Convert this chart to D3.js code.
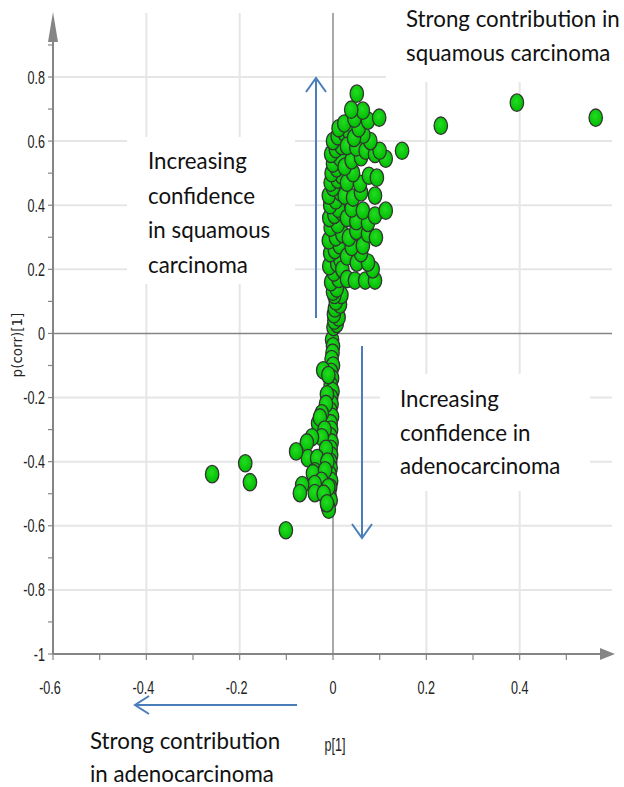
<!DOCTYPE html>
<html>
<head>
<meta charset="utf-8">
<script src="https://cdn.jsdelivr.net/npm/d3@7"></script>
<style>
  html, body { margin: 0; padding: 0; background: #fff; }
  svg { display: block; }
</style>
</head>
<body>
<svg id="chart" width="624" height="787"></svg>
<script>
// ---------- DATA ----------
const xTicks = [-0.6, -0.4, -0.2, 0, 0.2, 0.4];
const xTickLabels = ["-0.6", "-0.4", "-0.2", "0", "0.2", "0.4"];
const yTicks = [-1, -0.8, -0.6, -0.4, -0.2, 0, 0.2, 0.4, 0.6, 0.8];
const yTickLabels = ["-1", "-0.8", "-0.6", "-0.4", "-0.2", "0", "0.2", "0.4", "0.6", "0.8"];
const xMinorTicks = [-0.5, -0.3, -0.1, 0.1, 0.3, 0.5];
const yMinorTicks = [-0.9, -0.7, -0.5, -0.3, -0.1, 0.1, 0.3, 0.5, 0.7, 0.9];

// lower tail (negative p(corr))
const lowerSpine = [
  [-0.002,-0.02],[0.000,-0.04],[-0.001,-0.06],[-0.003,-0.08],[0.000,-0.10],[-0.004,-0.12],
  [-0.002,-0.14],[-0.005,-0.16],[-0.001,-0.18],[-0.004,-0.20],[-0.003,-0.22],[-0.006,-0.24],
  [-0.002,-0.26],[-0.005,-0.28],[-0.004,-0.30],[-0.006,-0.32],[-0.003,-0.34],[-0.005,-0.36],
  [-0.004,-0.38],[-0.006,-0.40],[-0.005,-0.42],[-0.007,-0.44],[-0.004,-0.46],[-0.006,-0.48],
  [-0.008,-0.50],[-0.005,-0.52],[-0.011,-0.54],[-0.009,-0.55],[-0.021,-0.115],[-0.010,-0.13],
  [-0.013,-0.19],[-0.015,-0.22]
];
const lowerLump = [
  [-0.024,-0.249],[-0.032,-0.280],[-0.028,-0.262],[-0.018,-0.300],[-0.024,-0.324],[-0.045,-0.324],
  [-0.015,-0.360],[-0.056,-0.340],[-0.030,-0.410],[-0.054,-0.389],[-0.034,-0.389],[-0.079,-0.368],
  [-0.012,-0.400],[-0.039,-0.430],[-0.021,-0.436],[-0.043,-0.436],[-0.017,-0.427],[-0.025,-0.460],
  [-0.039,-0.470],[-0.066,-0.473],[-0.010,-0.480],[-0.071,-0.498],[-0.039,-0.498],[-0.020,-0.500],
  [-0.013,-0.530]
];
// upper part (positive p(corr))
const upperSpine = [
  [0.001,0.02],[0.008,0.03],[0.003,0.04],[0.012,0.05],[0.002,0.06],[0.004,0.078],[0.015,0.09],
  [0.006,0.10],[0.018,0.12],[0.003,0.12],
  [0.000,0.13],[0.008,0.14],[-0.004,0.16],[0.012,0.17],[0.002,0.19],[-0.008,0.21],
  [0.009,0.218],[0.016,0.23],[-0.006,0.25],[0.004,0.26],[0.014,0.275],[-0.009,0.29],
  [0.006,0.30],[0.020,0.31],[-0.005,0.33],[0.010,0.34],[-0.008,0.36],[0.003,0.37],
  [0.018,0.38],[0.011,0.389],[-0.006,0.40],[0.006,0.415],[-0.009,0.43],[0.016,0.44],
  [0.000,0.455],[-0.005,0.47],[0.010,0.48],[0.019,0.492],[-0.003,0.50],[0.008,0.515],
  [0.000,0.53],[0.015,0.548],[-0.004,0.56],[0.006,0.575],[0.018,0.585],[0.000,0.60],
  [0.010,0.615],[0.025,0.625],[0.034,0.632],[0.012,0.64],[0.024,0.655]
];
const upperSpread = [
  [0.020,0.200],[0.030,0.170],[0.047,0.165],[0.069,0.165],[0.090,0.165],[0.085,0.200],
  [0.030,0.240],[0.051,0.221],[0.075,0.221],[0.060,0.250],[0.040,0.270],[0.064,0.274],
  [0.034,0.299],[0.050,0.320],[0.075,0.311],[0.092,0.299],[0.030,0.360],[0.050,0.350],
  [0.075,0.345],[0.040,0.390],[0.064,0.383],[0.090,0.368],[0.113,0.383],[0.025,0.430],
  [0.043,0.424],[0.060,0.440],[0.090,0.430],[0.030,0.470],[0.058,0.467],[0.043,0.500],
  [0.077,0.492],[0.094,0.486],[0.025,0.520],[0.040,0.540],[0.060,0.550],[0.030,0.585],
  [0.050,0.580],[0.070,0.570],[0.090,0.560],[0.113,0.545],[0.100,0.570],[0.080,0.600],
  [0.065,0.620],[0.045,0.610],[0.055,0.640],[0.046,0.670],[0.075,0.664],[0.099,0.673],
  [0.064,0.695],[0.039,0.698],[0.051,0.748]
];
const outlierPoints = [
  [0.148,0.570],[0.231,0.648],[0.394,0.720],[0.563,0.673],
  [-0.259,-0.439],[-0.188,-0.405],[-0.178,-0.464],[-0.101,-0.614]
];

// ---------- CHART ----------
const svg = d3.select("#chart");
const x = d3.scaleLinear().domain([-0.6, 0.6]).range([53, 613]);
const y = d3.scaleLinear().domain([-1, 0.8]).range([654, 77]);

const tickFont = "'Liberation Sans', Arial, sans-serif";
const noteFont = "Lato, 'Open Sans', sans-serif";
const grey = "#858585";
const blue = "#4a7ebb";

const defs = svg.append("defs");
const grad = defs.append("radialGradient").attr("id", "dotGrad")
  .attr("cx", "45%").attr("cy", "40%").attr("r", "60%");
grad.append("stop").attr("offset", "0%").attr("stop-color", "#22dd22");
grad.append("stop").attr("offset", "100%").attr("stop-color", "#00bb00");

const topY = 13, rightX = 612;

// gridlines
const g = svg.append("g");
g.selectAll(".hgrid").data(yTicks.filter(v => v !== -1 && v !== 0)).join("line")
  .attr("x1", x(-0.6)).attr("x2", rightX)
  .attr("y1", d => y(d)).attr("y2", d => y(d))
  .attr("stroke", "#e6e6e6").attr("stroke-width", 2);
g.selectAll(".vgrid").data(xTicks.filter(v => v !== -0.6 && v !== 0)).join("line")
  .attr("x1", d => x(d)).attr("x2", d => x(d))
  .attr("y1", topY).attr("y2", y(-1))
  .attr("stroke", "#e6e6e6").attr("stroke-width", 2);

// white annotation boxes covering gridlines
const boxes = [
  [386, 0, 238, 82],
  [127, 137, 168, 147],
  [380, 374, 210, 117]
];
svg.selectAll(".box").data(boxes).join("rect")
  .attr("x", d => d[0]).attr("y", d => d[1]).attr("width", d => d[2]).attr("height", d => d[3])
  .attr("fill", "#fff");

// zero lines
svg.append("line").attr("x1", x(-0.6)).attr("x2", rightX).attr("y1", y(0)).attr("y2", y(0))
  .attr("stroke", grey).attr("stroke-width", 1.6);
svg.append("line").attr("x1", x(0)).attr("x2", x(0)).attr("y1", topY).attr("y2", y(-1))
  .attr("stroke", grey).attr("stroke-width", 1.4);

// axes
const axisG = svg.append("g");
axisG.append("line").attr("x1", x(-0.6)).attr("x2", 601).attr("y1", y(-1)).attr("y2", y(-1))
  .attr("stroke", grey).attr("stroke-width", 2);
axisG.append("path").attr("d", `M600,${y(-1)-6} L615,${y(-1)} L600,${y(-1)+6} Z`).attr("fill", grey);
axisG.append("line").attr("x1", x(-0.6)).attr("x2", x(-0.6)).attr("y1", y(-1)).attr("y2", 40)
  .attr("stroke", grey).attr("stroke-width", 2);
axisG.append("path").attr("d", `M${x(-0.6)-5},42 L${x(-0.6)},12 L${x(-0.6)+5},42 Z`).attr("fill", grey);

// ticks
axisG.selectAll(".xt").data(xTicks.concat(xMinorTicks.filter(v => v < 0.6))).join("line")
  .attr("x1", d => x(d)).attr("x2", d => x(d)).attr("y1", y(-1)).attr("y2", y(-1) + 6)
  .attr("stroke", grey).attr("stroke-width", 1.2);
axisG.selectAll(".yt").data(yTicks.concat(yMinorTicks)).join("line")
  .attr("x1", x(-0.6) - 5).attr("x2", x(-0.6)).attr("y1", d => y(d)).attr("y2", d => y(d))
  .attr("stroke", grey).attr("stroke-width", 1.2);

// tick labels (condensed look via horizontal scaling)
axisG.selectAll(".xl").data(xTicks).join("text")
  .attr("transform", (d, i) => `translate(${x(d) - (xTickLabels[i].startsWith("-") ? 3 : 0)},694) scale(0.7,1)`)
  .attr("text-anchor", "middle")
  .attr("font-family", tickFont).attr("font-size", 18).attr("fill", "#222")
  .text((d, i) => xTickLabels[i]);
axisG.selectAll(".yl").data(yTicks).join("text")
  .attr("transform", d => `translate(45,${y(d) + 6.5}) scale(0.7,1)`)
  .attr("text-anchor", "end")
  .attr("font-family", tickFont).attr("font-size", 18).attr("fill", "#222")
  .text((d, i) => yTickLabels[i]);

// axis titles
svg.append("text").attr("transform", "translate(335,751) scale(0.7,1)").attr("text-anchor", "middle")
  .attr("font-family", tickFont).attr("font-size", 18).attr("fill", "#222").text("p[1]");
svg.append("text").attr("transform", "translate(22,345) rotate(-90)").attr("text-anchor", "middle")
  .attr("font-family", "'DejaVu Sans', sans-serif").attr("font-size", 13.5).attr("fill", "#222")
  .text("p(corr)[1]");

// points
const allPoints = lowerSpine.concat(lowerLump, upperSpine, upperSpread, outlierPoints);
svg.append("g").selectAll("ellipse").data(allPoints).join("ellipse")
  .attr("cx", d => x(d[0])).attr("cy", d => y(d[1]))
  .attr("rx", 6.7).attr("ry", 8.7)
  .attr("fill", "url(#dotGrad)")
  .attr("stroke", "#333").attr("stroke-width", 1.3);

// blue arrows
const arrows = svg.append("g").attr("stroke", blue).attr("stroke-width", 2).attr("fill", "none");
arrows.append("line").attr("x1", 316).attr("x2", 316).attr("y1", 318).attr("y2", 78);
arrows.append("path").attr("d", "M306,92 L316,78 L326,92");
arrows.append("line").attr("x1", 362).attr("x2", 362).attr("y1", 346).attr("y2", 538);
arrows.append("path").attr("d", "M352,524 L362,538 L372,524");
arrows.append("line").attr("x1", 297).attr("x2", 135).attr("y1", 705).attr("y2", 705);
arrows.append("path").attr("d", "M149,696 L135,705 L149,714");

// annotations
function note(lines, x0, y0, dy) {
  const t = svg.append("text").attr("font-family", noteFont).attr("font-size", 22.3).attr("fill", "#111");
  lines.forEach((l, i) => t.append("tspan").attr("x", x0).attr("y", y0 + i * dy).text(l));
}
note(["Strong contribution in", "squamous carcinoma"], 406, 27, 34);
note(["Increasing", "confidence", "in squamous", "carcinoma"], 148, 169, 34.5);
note(["Increasing", "confidence in", "adenocarcinoma"], 400, 407, 33.5);
note(["Strong contribution", "in adenocarcinoma"], 90, 749, 33);
</script>
</body>
</html>
